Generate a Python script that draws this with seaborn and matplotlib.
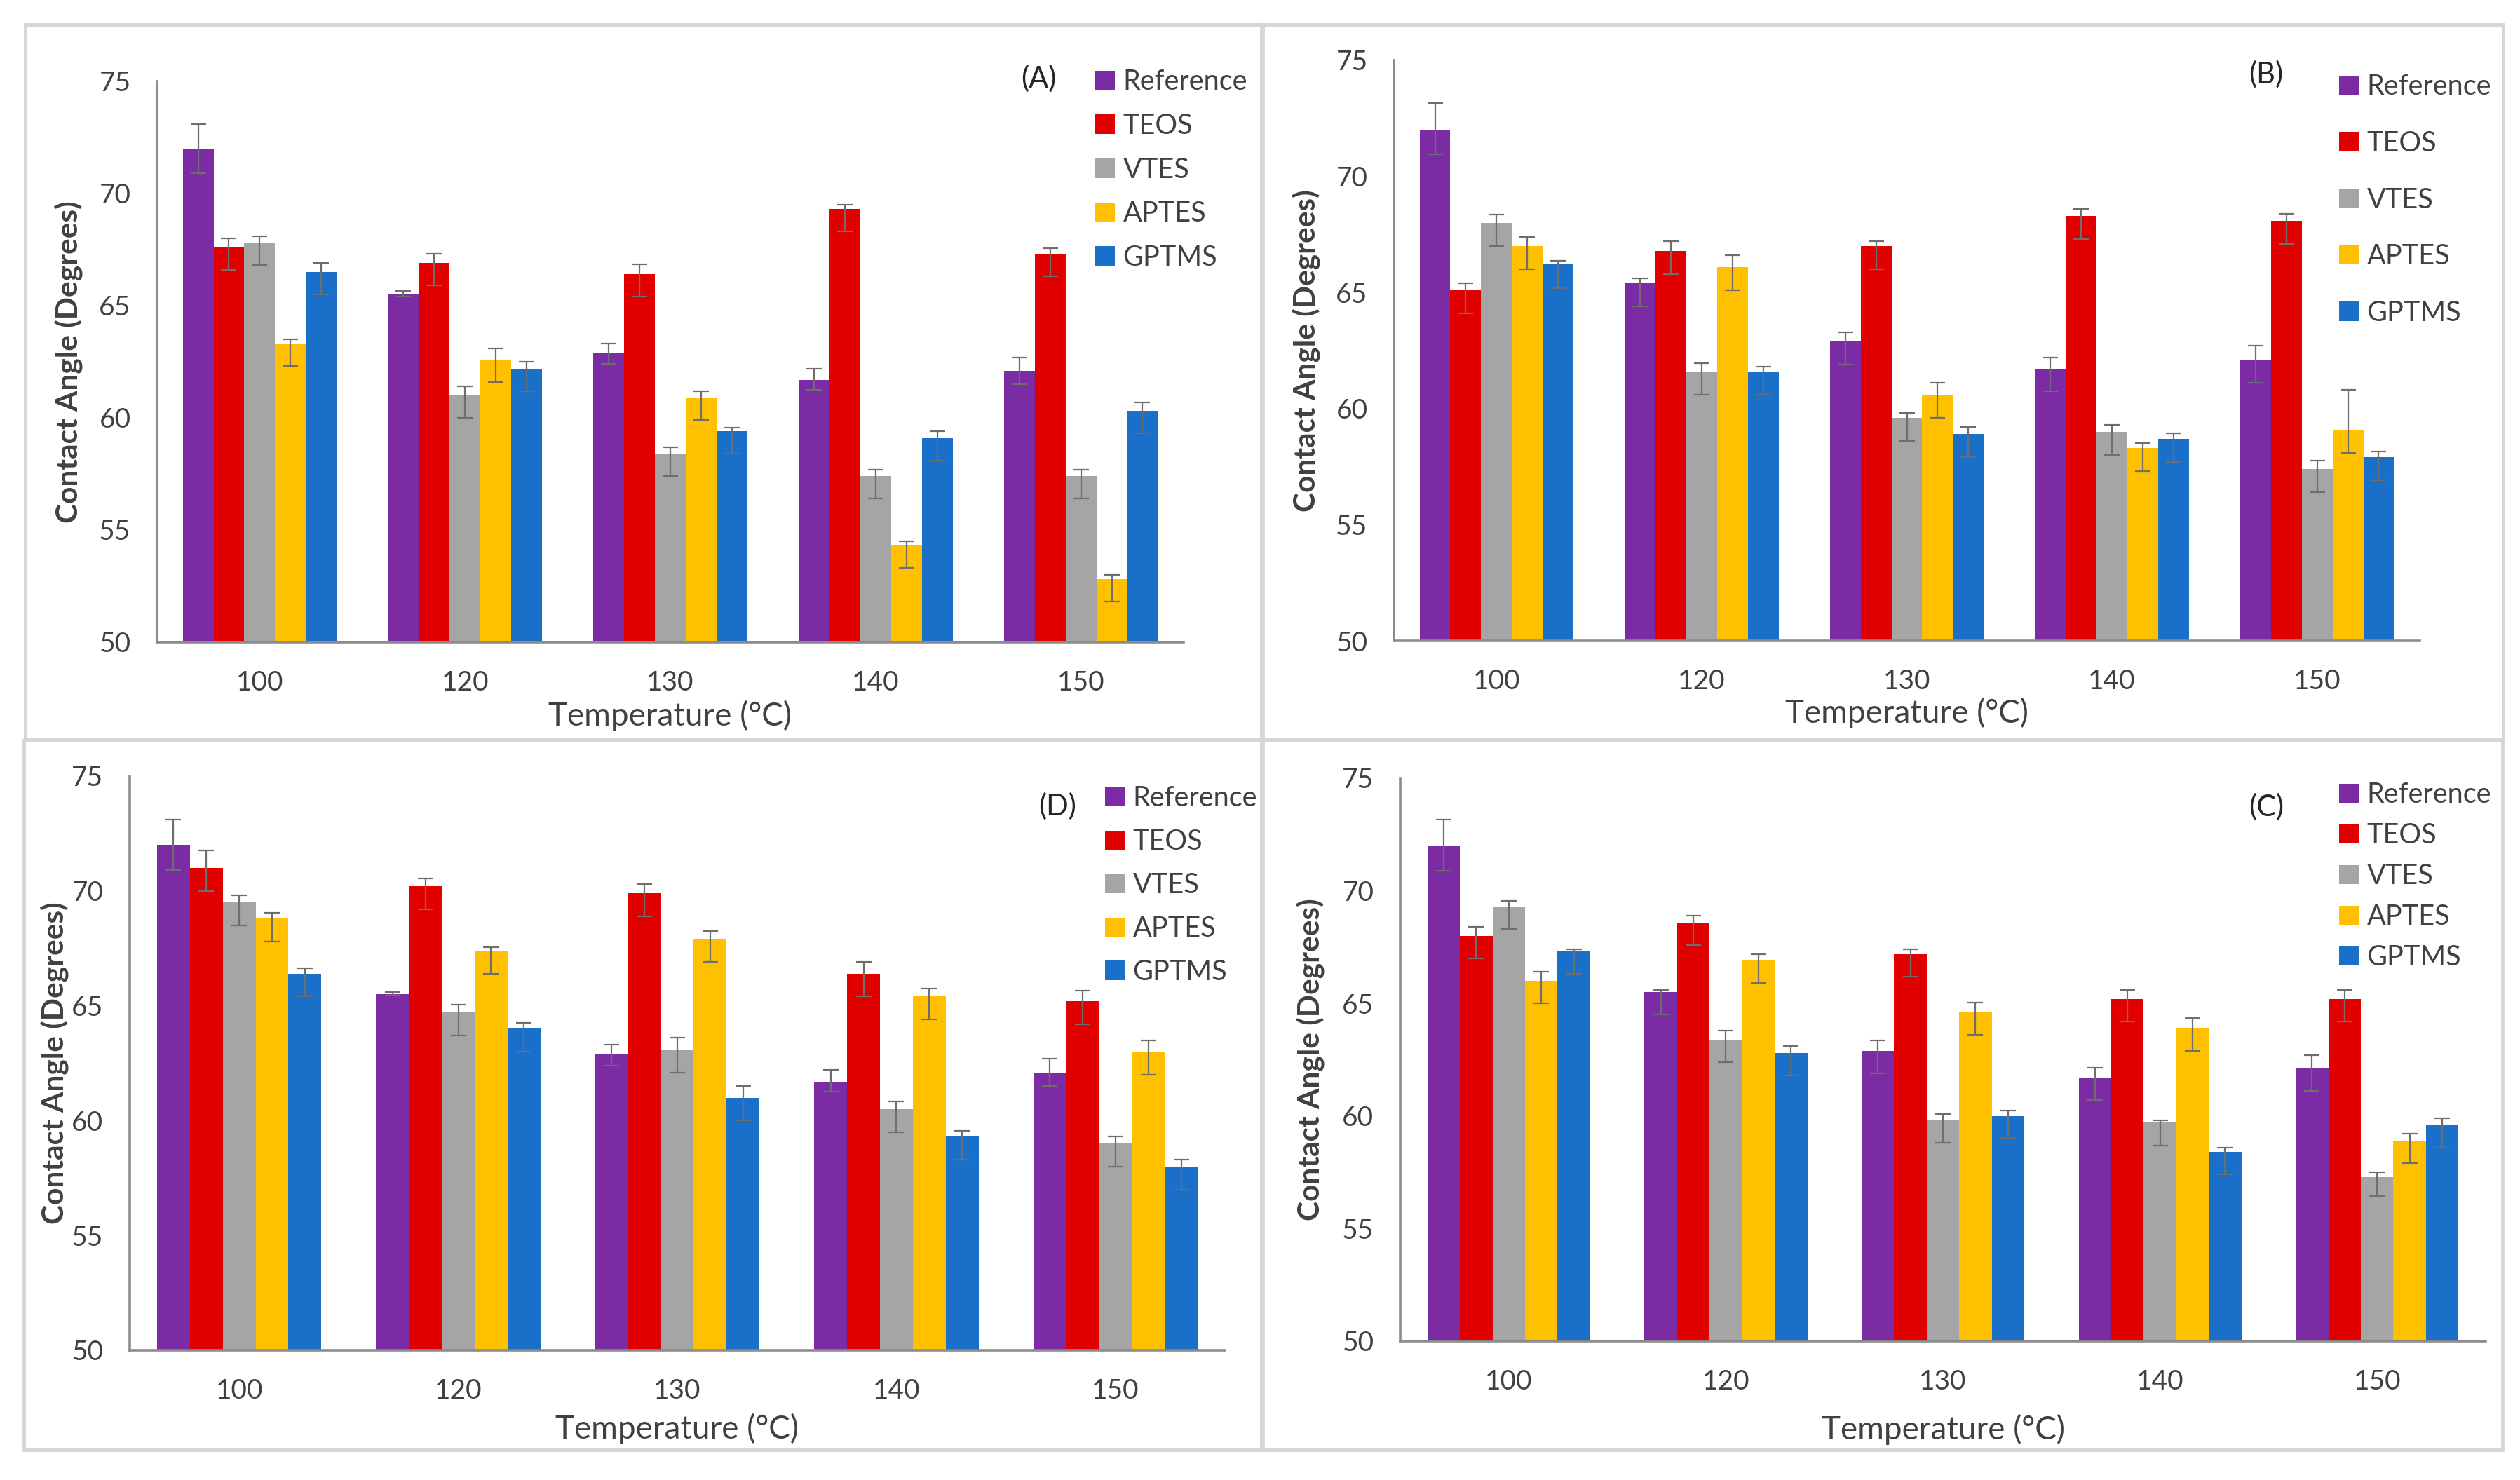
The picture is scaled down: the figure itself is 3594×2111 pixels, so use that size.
import numpy as np
import pandas as pd
import seaborn as sns
import matplotlib.pyplot as plt
from matplotlib.patches import Patch, Rectangle

# categories and series
temps = ['100', '120', '130', '140', '150']
series = ['Reference', 'TEOS', 'VTES', 'APTES', 'GPTMS']
colors = ['#7B2BA4', '#E00000', '#A5A5A5', '#FFC000', '#1A70C8']

# panel (A) values, rows follow `series`
a_vals = [[72.0, 65.5, 62.9, 61.7, 62.1],
          [67.6, 66.9, 66.4, 69.3, 67.3],
          [67.8, 61.0, 58.4, 57.4, 57.4],
          [63.3, 62.6, 60.9, 54.3, 52.8],
          [66.5, 62.2, 59.4, 59.1, 60.3]]
a_up = [[1.1, 0.15, 0.4, 0.5, 0.6],
        [0.4, 0.4, 0.45, 0.2, 0.25],
        [0.3, 0.4, 0.3, 0.3, 0.3],
        [0.2, 0.5, 0.3, 0.2, 0.2],
        [0.4, 0.3, 0.15, 0.3, 0.4]]
a_dn = [[1.1, 0.1, 0.5, 0.45, 0.6],
        [1.0, 1.0, 1.0, 1.0, 1.0],
        [1.0, 1.0, 1.0, 1.0, 1.0],
        [1.0, 1.0, 1.0, 1.0, 1.0],
        [1.0, 1.0, 1.0, 1.0, 1.0]]

# panel (B)
b_vals = [[72.0, 65.4, 62.9, 61.7, 62.1],
          [65.1, 66.8, 67.0, 68.3, 68.1],
          [68.0, 61.6, 59.6, 59.0, 57.4],
          [67.0, 66.1, 60.6, 58.3, 59.1],
          [66.2, 61.6, 58.9, 58.7, 57.9]]
b_up = [[1.15, 0.2, 0.4, 0.5, 0.6],
        [0.3, 0.4, 0.2, 0.3, 0.3],
        [0.35, 0.35, 0.2, 0.3, 0.35],
        [0.4, 0.5, 0.5, 0.2, 1.7],
        [0.15, 0.2, 0.3, 0.25, 0.25]]
b_dn = [[1.05, 1.0, 1.0, 0.95, 1.0],
        [1.0, 1.0, 1.0, 1.0, 1.0],
        [1.0, 1.0, 1.0, 1.0, 1.0],
        [1.0, 1.0, 1.0, 1.0, 1.0],
        [1.0, 1.0, 1.0, 1.0, 1.0]]

# panel (D)
d_vals = [[72.0, 65.5, 62.9, 61.7, 62.1],
          [71.0, 70.2, 69.9, 66.4, 65.2],
          [69.5, 64.7, 63.1, 60.5, 59.0],
          [68.8, 67.4, 67.9, 65.4, 63.0],
          [66.4, 64.0, 61.0, 59.3, 58.0]]
d_up = [[1.1, 0.1, 0.4, 0.5, 0.6],
        [0.75, 0.35, 0.4, 0.5, 0.45],
        [0.3, 0.35, 0.5, 0.35, 0.3],
        [0.25, 0.15, 0.35, 0.35, 0.5],
        [0.25, 0.25, 0.5, 0.25, 0.3]]
d_dn = [[1.1, 0.05, 0.5, 0.45, 0.6],
        [1.0, 1.0, 1.0, 1.0, 1.0],
        [1.0, 1.0, 1.0, 1.0, 1.0],
        [1.0, 1.0, 1.0, 1.0, 1.0],
        [1.0, 1.0, 1.0, 1.0, 1.0]]

# panel (C)
c_vals = [[72.0, 65.5, 62.9, 61.7, 62.1],
          [68.0, 68.6, 67.2, 65.2, 65.2],
          [69.3, 63.4, 59.8, 59.7, 57.3],
          [66.0, 66.9, 64.6, 63.9, 58.9],
          [67.3, 62.8, 60.0, 58.4, 59.6]]
c_up = [[1.15, 0.1, 0.45, 0.45, 0.6],
        [0.4, 0.3, 0.2, 0.4, 0.4],
        [0.25, 0.4, 0.3, 0.1, 0.2],
        [0.4, 0.3, 0.45, 0.45, 0.3],
        [0.1, 0.3, 0.25, 0.2, 0.3]]
c_dn = [[1.1, 1.0, 1.0, 1.0, 1.0],
        [1.0, 1.0, 1.0, 1.0, 1.0],
        [1.0, 1.0, 1.0, 1.0, 0.85],
        [1.0, 1.0, 1.0, 1.0, 1.0],
        [1.0, 1.0, 1.0, 1.0, 1.0]]

W, H = 3594, 2111
sns.set_style('white')
plt.rcParams['font.family'] = ['Lato', 'DejaVu Sans']
txt = '#404040'
axc = '#8C8C8C'

fig = plt.figure(figsize=(W / 100, H / 100), dpi=100)


def fx(px):
    return px / W


def fy(py):
    return 1 - py / H


# panel frames
for x0, y0, x1, y1 in [(36, 35, 1799, 1054), (1801, 35, 3570, 1054),
                       (34, 1056, 1799, 2068), (1801, 1056, 3569, 2068)]:
    fig.patches.append(Rectangle((fx(x0), fy(y1)), fx(x1) - fx(x0), fy(y0) - fy(y1),
                                 transform=fig.transFigure, fill=False,
                                 edgecolor='#D6D6D6', linewidth=3.5))


def draw_panel(box, vals, up, dn, letter, ylab_x, xlab_dy, leg_x, leg_y, leg_step, let_xy):
    x0, y0, x1, y1 = box
    ax = fig.add_axes([fx(x0), fy(y1), fx(x1) - fx(x0), fy(y0) - fy(y1)])
    df = pd.DataFrame({
        'temp': np.tile(temps, len(series)),
        'series': np.repeat(series, len(temps)),
        'value': np.ravel(vals),
    })
    sns.barplot(data=df, x='temp', y='value', hue='series', order=temps, hue_order=series,
                palette=colors, saturation=1, width=0.75, errorbar=None,
                linewidth=0, legend=False, ax=ax)
    # error bars from the bar geometry
    bars = list(ax.containers)
    for i, cont in enumerate(bars):
        xs = [b.get_x() + b.get_width() / 2 for b in cont]
        hs = [b.get_height() for b in cont]
        ax.errorbar(xs, hs, yerr=[dn[i], up[i]], fmt='none', ecolor='#6E6E6E',
                    elinewidth=1.6, capsize=8, capthick=1.6, zorder=5)
    ax.set_ylim(50, 75)
    ax.set_yticks([50, 55, 60, 65, 70, 75])
    ax.set_xlim(-0.5, 4.5)
    ax.set_xticks(range(5))
    ax.set_xticks(np.arange(-0.5, 5, 1), minor=True)
    ax.tick_params(axis='x', which='major', length=0, pad=29, labelsize=28, labelcolor=txt)
    ax.tick_params(axis='x', which='minor', length=9, width=2.2, color=axc, direction='out')
    ax.tick_params(axis='y', length=9, width=2.2, color=axc, direction='out', pad=18,
                   labelsize=28, labelcolor=txt)
    sns.despine(ax=ax)
    for s in ['left', 'bottom']:
        ax.spines[s].set_color(axc)
        ax.spines[s].set_linewidth(2.6)
    ax.set_xlabel('Temperature (°C)', fontsize=33, color=txt)
    ax.set_ylabel('Contact Angle (Degrees)', fontsize=30.5, color=txt, fontweight='bold')
    ax.yaxis.label.set_va('center')
    ax.xaxis.label.set_va('center')
    ax.yaxis.set_label_coords((ylab_x - x0) / (x1 - x0), 0.5)
    ax.xaxis.set_label_coords(0.5, -xlab_dy / (y1 - y0))
    handles = [Patch(facecolor=c, edgecolor='none') for c in colors]
    row_h = 36.3
    ax.legend(handles, series, loc='upper left',
              bbox_to_anchor=(fx(leg_x), fy(leg_y - 17.75)), bbox_transform=fig.transFigure,
              frameon=False, borderpad=0, borderaxespad=0, handlelength=0.7, handleheight=0.7,
              handletextpad=0.3, labelspacing=(leg_step - row_h) / 39.6, fontsize=28.5,
              labelcolor=txt)
    fig.text(fx(let_xy[0]), fy(let_xy[1]), letter, ha='center', va='center',
             fontsize=30, color='#262626')
    return ax


draw_panel((224, 116, 1688, 916), a_vals, a_up, a_dn, '(A)', 98, 105, 1562, 116, 62, (1481, 112))
draw_panel((1988, 86, 3451, 914), b_vals, b_up, b_dn, '(B)', 1863, 103, 3336, 123, 80, (3232, 106))
draw_panel((185, 1107, 1747, 1926), d_vals, d_up, d_dn, '(D)', 78, 112, 1576, 1138, 61.3, (1508, 1150))
draw_panel((1997, 1110, 3545, 1913), c_vals, c_up, c_dn, '(C)', 1869, 126, 3336, 1133, 57.3, (3232, 1151))

fig.savefig('out.png', dpi=100)
